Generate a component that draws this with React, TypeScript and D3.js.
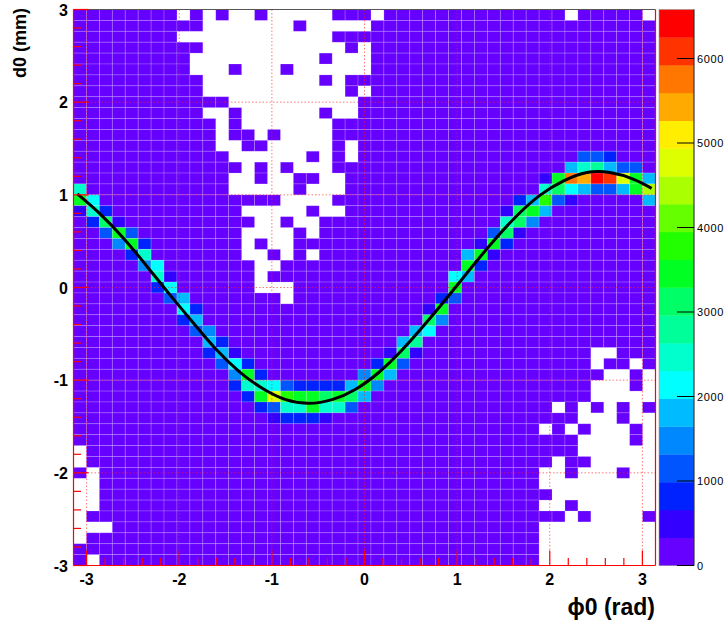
import React, { useEffect, useRef } from "react";
import * as d3 from "d3";

// ---------- data ----------
const NX = 45; // phi0 bins
const NY = 51; // d0 bins
const X_DOMAIN: [number, number] = [-Math.PI, Math.PI];
const Y_DOMAIN: [number, number] = [-3, 3];
const Z_MAX = 6580;

const PALETTE = [
  "#6600ff", "#3300ff", "#0022ff", "#0055ff", "#0088ff",
  "#00bbff", "#00ffff", "#00ffcc", "#00ff99", "#00ff66",
  "#00ff22", "#22ff00", "#66ff00", "#aaff00", "#ddff00",
  "#ffee00", "#ffaa00", "#ff7700", "#ff3300", "#ff0000",
];

const BACKGROUND_COUNT = 150;

// empty bins, row index counted from the top (d0 = 3) ; column from phi0 = -pi
const EMPTY_BINS: [number, string][] = [
  [0, "8,10,12-13,15-19,23,38,44"],
  [1, "10-16,18-22"],
  [2, "8-19"],
  [3, "10-20,22"],
  [4, "9-18,20-22"],
  [5, "9-11,13-15,17-22"],
  [6, "10-18,20"],
  [7, "10-20,22"],
  [8, "12-21"],
  [9, "10-11,13-18,20-21"],
  [10, "11,13-19"],
  [11, "11,14,16-19"],
  [12, "11-12,15-19,21"],
  [13, "12-17,19,21"],
  [14, "13,15,17-19"],
  [15, "12-13,15-16,19-20"],
  [16, "12-16,18-20"],
  [17, "16-19"],
  [18, "13-17,19-20"],
  [19, "14-15,17-18"],
  [20, "13-16,18"],
  [21, "13,15-16"],
  [22, "13-14,16,18"],
  [23, "14-15"],
  [24, "14"],
  [25, "14-16"],
  [26, "16"],
  [31, "40-41"],
  [32, "40,43"],
  [33, "41-42,44"],
  [34, "40-42,44"],
  [35, "40-44"],
  [36, "37,39,41,43"],
  [37, "39-41,43-44"],
  [38, "36,38,40-42,44"],
  [39, "39-42,44"],
  [40, "0,39-44"],
  [41, "0,37,40-44"],
  [42, "1,36-37,39-41,43-44"],
  [43, "0-1,36-44"],
  [44, "0-1,37-44"],
  [45, "0-1,36-37,39-44"],
  [46, "0,38,40-43"],
  [47, "0-2,36-44"],
  [48, "0,36-44"],
  [49, "36-44"],
  [50, "1,36-44"],
];

// [column, row, entries] for the populated band
const BAND_BINS: [number, number, number][] = [
  [0, 16, 2460], [0, 17, 3450], [0, 18, 650],
  [1, 17, 2200], [1, 18, 2460], [1, 19, 800],
  [2, 18, 800], [2, 19, 3120], [2, 20, 1150],
  [3, 19, 600], [3, 20, 3450], [3, 21, 1400],
  [4, 20, 1200], [4, 21, 3300], [4, 22, 800],
  [5, 21, 700], [5, 22, 2500], [5, 23, 1500],
  [6, 23, 2300], [6, 24, 2500], [6, 25, 800],
  [7, 24, 600], [7, 25, 2200], [7, 26, 1300],
  [8, 26, 1700], [8, 27, 2100], [8, 28, 800],
  [9, 27, 700], [9, 28, 1900], [9, 29, 1300],
  [10, 29, 1500], [10, 30, 1800], [10, 31, 700],
  [11, 30, 900], [11, 31, 1900], [11, 32, 1200],
  [12, 31, 600], [12, 32, 2000], [12, 33, 1500], [12, 34, 800],
  [13, 32, 800], [13, 33, 3400], [13, 34, 2400], [13, 35, 900],
  [14, 33, 700], [14, 34, 2400], [14, 35, 3450], [14, 36, 800],
  [15, 34, 2200], [15, 35, 4800], [15, 36, 1150], [15, 37, 500],
  [16, 34, 1150], [16, 35, 3800], [16, 36, 2460], [16, 37, 800],
  [17, 34, 800], [17, 35, 3450], [17, 36, 2460], [17, 37, 800],
  [18, 34, 800], [18, 35, 3450], [18, 36, 3450], [18, 37, 800],
  [19, 34, 800], [19, 35, 3120], [19, 36, 2460], [19, 37, 500],
  [20, 34, 800], [20, 35, 3450], [20, 36, 2460],
  [21, 34, 1800], [21, 35, 3120], [21, 36, 1150],
  [22, 33, 1480], [22, 34, 3450], [22, 35, 1800],
  [23, 32, 800], [23, 33, 3450], [23, 34, 1480],
  [24, 31, 500], [24, 32, 3450], [24, 33, 1800],
  [25, 30, 1800], [25, 31, 3120], [25, 32, 1150],
  [26, 29, 1800], [26, 30, 2800], [26, 31, 500],
  [27, 27, 500], [27, 28, 3120], [27, 29, 2130],
  [28, 26, 800], [28, 27, 3450], [28, 28, 1480],
  [29, 24, 2130], [29, 25, 3450], [29, 26, 1150],
  [30, 22, 1800], [30, 23, 3450], [30, 24, 1800],
  [31, 21, 500], [31, 22, 3450], [31, 23, 800],
  [32, 20, 1150], [32, 21, 3450], [32, 22, 500],
  [33, 18, 500], [33, 19, 2460], [33, 20, 3120], [33, 21, 800],
  [34, 17, 800], [34, 18, 3120], [34, 19, 3120], [34, 20, 500],
  [35, 17, 1800], [35, 18, 3450], [35, 19, 1480],
  [36, 15, 500], [36, 16, 2460], [36, 17, 3780], [36, 18, 1800],
  [37, 15, 3450], [37, 16, 3120], [37, 17, 1150],
  [38, 14, 1800], [38, 15, 5750], [38, 16, 2300], [38, 17, 500],
  [39, 13, 1000], [39, 14, 2460], [39, 15, 5430], [39, 16, 1800],
  [40, 13, 1150], [40, 14, 2800], [40, 15, 6420], [40, 16, 1150],
  [41, 13, 800], [41, 14, 1800], [41, 15, 6080], [41, 16, 1150],
  [42, 14, 1150], [42, 15, 4770], [42, 16, 1800],
  [43, 14, 1150], [43, 15, 3450], [43, 16, 3450],
  [44, 15, 1800], [44, 16, 4440], [44, 17, 1800],
];

// fitted curve: [phi0, d0]
const FIT_PHI = [-3.1, -2.85, -2.6, -2.35, -2.1, -1.85, -1.6, -1.35, -1.1, -0.85, -0.6, -0.35, -0.1, 0.15, 0.4, 0.65, 0.9, 1.15, 1.4, 1.65, 1.9, 2.15, 2.4, 2.65, 2.9, 3.1];
const FIT_D0 = [1.01, 0.79, 0.53, 0.23, -0.08, -0.38, -0.67, -0.91, -1.09, -1.21, -1.25, -1.21, -1.1, -0.92, -0.68, -0.4, -0.1, 0.21, 0.51, 0.78, 1.0, 1.15, 1.24, 1.24, 1.17, 1.07];

const X_TICKS = [-3, -2, -1, 0, 1, 2, 3];
const Y_TICKS = [-3, -2, -1, 0, 1, 2, 3];
const Z_TICKS = [0, 1000, 2000, 3000, 4000, 5000, 6000];
const X_TITLE = "ϕ0 (rad)";
const Y_TITLE = "d0 (mm)";

// ---------- helpers ----------
function parseCols(s: string): number[] {
  const out: number[] = [];
  s.split(",").forEach((p) => {
    const [a, b] = p.split("-").map(Number);
    if (b === undefined) out.push(a);
    else for (let i = a; i <= b; i++) out.push(i);
  });
  return out;
}

const FONT = "'Liberation Sans', Arial, Helvetica, sans-serif";

export default function App() {
  const ref = useRef<SVGSVGElement>(null);

  useEffect(() => {
    const svg = d3.select(ref.current);
    svg.selectAll("*").remove();

    const L = 73.5, R = 655.5, T = 9.5, B = 565.5;
    const x = d3.scaleLinear().domain(X_DOMAIN).range([L, R]);
    const y = d3.scaleLinear().domain(Y_DOMAIN).range([B, T]);
    const z = d3.scaleQuantize<string>().domain([0, Z_MAX]).range(PALETTE);

    const dx = (X_DOMAIN[1] - X_DOMAIN[0]) / NX;
    const dy = (Y_DOMAIN[1] - Y_DOMAIN[0]) / NY;

    // build grid
    const grid: (number | null)[][] = d3.range(NY).map(() => d3.range(NX).map(() => BACKGROUND_COUNT));
    EMPTY_BINS.forEach(([r, s]) => parseCols(s).forEach((c) => (grid[r][c] = null)));
    BAND_BINS.forEach(([c, r, v]) => (grid[r][c] = v));

    const cells: { c: number; r: number; v: number }[] = [];
    grid.forEach((row, r) => row.forEach((v, c) => { if (v !== null) cells.push({ c, r, v }); }));

    svg.append("rect").attr("width", 726).attr("height", 622).attr("fill", "#ffffff");

    const cellG = svg.append("g");
    cellG.selectAll("rect").data(cells).join("rect")
      .attr("x", (d) => x(X_DOMAIN[0] + d.c * dx))
      .attr("y", (d) => y(Y_DOMAIN[1] - d.r * dy))
      .attr("width", (d) => x(X_DOMAIN[0] + (d.c + 1) * dx) - x(X_DOMAIN[0] + d.c * dx))
      .attr("height", (d) => y(Y_DOMAIN[1] - (d.r + 1) * dy) - y(Y_DOMAIN[1] - d.r * dy))
      .attr("fill", (d) => z(d.v))
      .attr("stroke", "rgba(255,255,255,0.22)")
      .attr("stroke-width", 0.8);

    // grid lines
    const gridG = svg.append("g").attr("stroke", "#ff2020").attr("stroke-width", 1)
      .attr("stroke-dasharray", "1.5,2").attr("opacity", 0.6);
    X_TICKS.forEach((t) => gridG.append("line").attr("x1", x(t)).attr("x2", x(t)).attr("y1", T).attr("y2", B));
    Y_TICKS.filter((t) => t > Y_DOMAIN[0] && t < Y_DOMAIN[1]).forEach((t) =>
      gridG.append("line").attr("y1", y(t)).attr("y2", y(t)).attr("x1", L).attr("x2", R));

    // fit curve
    const line = d3.line<number>().x((_, i) => x(FIT_PHI[i])).y((d) => y(d)).curve(d3.curveNatural);
    svg.append("path").attr("d", line(FIT_D0) as string).attr("fill", "none")
      .attr("stroke", "#000").attr("stroke-width", 3);

    // frame
    svg.append("line").attr("x1", L).attr("x2", R).attr("y1", T).attr("y2", T).attr("stroke", "#555").attr("stroke-width", 1);
    const axG = svg.append("g").attr("stroke", "#ff0000").attr("stroke-width", 1.2);
    axG.append("line").attr("x1", L).attr("x2", L).attr("y1", T).attr("y2", B);
    axG.append("line").attr("x1", R).attr("x2", R).attr("y1", T).attr("y2", B);
    axG.append("line").attr("x1", L).attr("x2", R).attr("y1", B).attr("y2", B);

    // ticks
    const xMinor = d3.range(-3.0, 3.01, 0.2).map((v) => +v.toFixed(2));
    xMinor.forEach((t) => {
      const major = Math.abs(t - Math.round(t)) < 1e-6;
      axG.append("line").attr("x1", x(t)).attr("x2", x(t)).attr("y1", B).attr("y2", B - (major ? 15 : 7.5));
    });
    const yMinor = d3.range(-3.0, 3.01, 0.2).map((v) => +v.toFixed(2));
    yMinor.forEach((t) => {
      const major = Math.abs(t - Math.round(t)) < 1e-6;
      axG.append("line").attr("y1", y(t)).attr("y2", y(t)).attr("x1", L).attr("x2", L + (major ? 15 : 7.5));
    });

    // tick labels
    svg.append("g").selectAll("text").data(X_TICKS).join("text")
      .attr("x", (d) => x(d)).attr("y", 585).attr("text-anchor", "middle")
      .attr("font-family", FONT).attr("font-weight", "bold").attr("font-size", 16).attr("fill", "#000")
      .text((d) => String(d));
    svg.append("g").selectAll("text").data(Y_TICKS).join("text")
      .attr("x", 68).attr("y", (d) => y(d) + 6).attr("text-anchor", "end")
      .attr("font-family", FONT).attr("font-weight", "bold").attr("font-size", 16).attr("fill", "#000")
      .text((d) => String(d));

    // axis titles
    svg.append("text").attr("x", 655).attr("y", 615).attr("text-anchor", "end")
      .attr("font-family", FONT).attr("font-weight", "bold").attr("font-size", 23).attr("fill", "#000")
      .text(X_TITLE);
    svg.append("text").attr("transform", "translate(26,8) rotate(-90)").attr("text-anchor", "end")
      .attr("font-family", FONT).attr("font-weight", "bold").attr("font-size", 18).attr("fill", "#000")
      .text(Y_TITLE);

    // colour bar
    const zb = d3.scaleLinear().domain([0, Z_MAX]).range([B, T]);
    const CL = 659, CR = 694;
    const step = Z_MAX / PALETTE.length;
    svg.append("g").selectAll("rect").data(PALETTE).join("rect")
      .attr("x", CL).attr("width", CR - CL)
      .attr("y", (_, i) => zb((i + 1) * step))
      .attr("height", (_, i) => zb(i * step) - zb((i + 1) * step) + 0.3)
      .attr("fill", (d) => d);
    svg.append("rect").attr("x", CL).attr("y", T).attr("width", CR - CL).attr("height", B - T)
      .attr("fill", "none").attr("stroke", "#999").attr("stroke-width", 0.6);
    const zt = svg.append("g");
    Z_TICKS.forEach((t) => {
      zt.append("line").attr("x1", CR).attr("x2", CR - 17).attr("y1", zb(t)).attr("y2", zb(t))
        .attr("stroke", "#000").attr("stroke-width", 1);
      zt.append("text").attr("x", CR + 3).attr("y", zb(t) + 4).attr("font-family", FONT)
        .attr("font-size", 11).attr("letter-spacing", 0.6).attr("fill", "#000").text(String(t));
    });
    svg.append("line").attr("x1", CR).attr("x2", CR).attr("y1", T).attr("y2", B).attr("stroke", "#000").attr("stroke-width", 0.8);
  }, []);

  return (
    <svg ref={ref} width={726} height={622} style={{ position: "absolute", left: 0, top: 0, display: "block" }} />
  );
}
